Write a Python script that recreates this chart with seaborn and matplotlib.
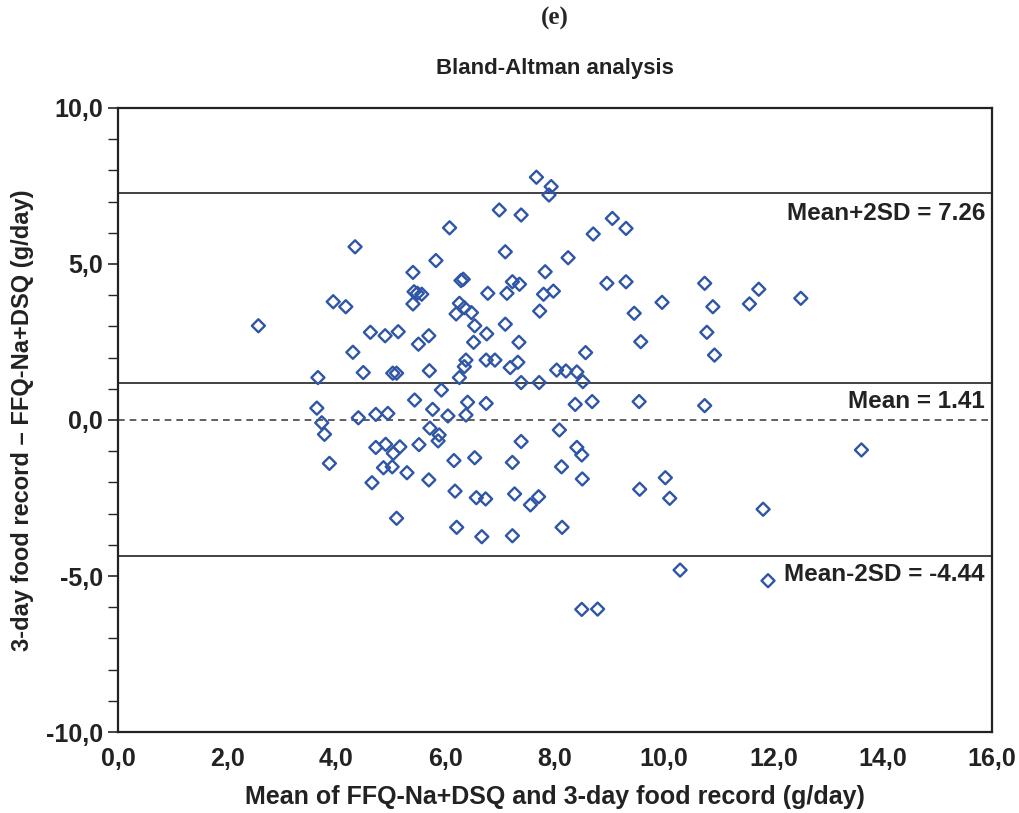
import matplotlib
matplotlib.use("Agg")
import matplotlib.pyplot as plt
from matplotlib.ticker import FuncFormatter, MultipleLocator
import numpy as np
import pandas as pd
import seaborn as sns

# Bland-Altman points
mean_vals = [
    4.34, 5.40, 5.42, 5.48, 5.56, 5.40, 3.94, 4.17, 2.57, 4.62,
    4.89, 5.13, 5.69, 4.30, 5.50, 4.49, 5.03, 5.10, 3.66, 3.64,
    5.43, 4.40, 4.72, 4.94, 3.73, 3.78, 4.72, 4.90, 5.04, 5.16,
    5.51, 5.71, 3.87, 4.86, 5.02, 5.29, 4.65, 5.69, 5.10, 7.66,
    7.93, 7.89, 6.98, 7.38, 6.07, 7.09, 5.82, 8.24, 6.28, 6.32,
    7.82, 7.22, 7.35, 6.77, 7.12, 7.79, 7.97, 6.25, 6.34, 6.19,
    6.47, 7.72, 6.53, 7.09, 6.75, 6.51, 7.34, 6.37, 6.34, 6.74,
    6.90, 7.18, 7.32, 8.03, 8.20, 8.40, 5.70, 6.25, 7.38, 7.71,
    5.92, 6.40, 6.74, 8.37, 5.76, 6.04, 6.37, 5.88, 5.86, 8.08,
    7.38, 8.40, 8.68, 9.54, 8.49, 6.15, 6.53, 7.22, 8.12, 8.50,
    6.17, 6.56, 6.73, 7.26, 7.55, 7.70, 9.55, 10.02, 10.10, 6.20,
    6.66, 7.22, 8.13, 10.29, 8.49, 8.78, 9.05, 9.30, 8.70, 8.95,
    9.30, 10.74, 11.73, 9.96, 9.45, 10.89, 11.56, 10.78, 9.57, 10.92,
    8.56, 8.51, 10.74, 12.50, 13.61, 11.81, 11.90,
]
diff_vals = [
    5.55, 4.73, 4.11, 4.06, 4.03, 3.72, 3.79, 3.63, 3.02, 2.81,
    2.70, 2.83, 2.70, 2.17, 2.43, 1.52, 1.50, 1.50, 1.36, 0.38,
    0.64, 0.07, 0.18, 0.21, -0.09, -0.46, -0.88, -0.78, -1.07, -0.86,
    -0.79, -0.26, -1.39, -1.53, -1.50, -1.69, -2.01, -1.92, -3.15, 7.78,
    7.48, 7.21, 6.73, 6.57, 6.16, 5.39, 5.11, 5.20, 4.47, 4.51,
    4.75, 4.43, 4.35, 4.06, 4.06, 4.03, 4.13, 3.74, 3.60, 3.40,
    3.44, 3.49, 3.02, 3.07, 2.76, 2.49, 2.49, 1.92, 1.71, 1.92,
    1.92, 1.68, 1.85, 1.60, 1.57, 1.54, 1.58, 1.36, 1.20, 1.20,
    0.96, 0.57, 0.53, 0.50, 0.34, 0.13, 0.16, -0.48, -0.67, -0.32,
    -0.69, -0.88, 0.59, 0.59, -1.12, -1.30, -1.21, -1.36, -1.50, -1.89,
    -2.28, -2.49, -2.53, -2.37, -2.72, -2.46, -2.22, -1.85, -2.51, -3.44,
    -3.74, -3.71, -3.44, -4.81, -6.07, -6.06, 6.46, 6.14, 5.96, 4.38,
    4.43, 4.38, 4.19, 3.77, 3.42, 3.63, 3.72, 2.81, 2.51, 2.08,
    2.16, 1.23, 0.46, 3.90, -0.96, -2.86, -5.15,
]

# horizontal reference lines as drawn, and their labels
limit_levels = [7.26, 1.17, -4.35]
limit_labels = ["Mean+2SD = 7.26", "Mean = 1.41", "Mean-2SD = -4.44"]

df = pd.DataFrame({"mean": mean_vals, "diff": diff_vals})

sns.set_theme(style="white")
plt.rcParams["font.family"] = ["Liberation Sans", "DejaVu Sans"]

BLUE = "#2f56a6"
INK = "#222222"

fig = plt.figure(figsize=(10.19, 8.13), dpi=100)
ax = fig.add_axes([0.1158, 0.0996, 0.8577, 0.7676])

for lv in limit_levels:
    ax.axhline(lv, color="#333333", lw=1.3, zorder=1)
ax.axhline(0, color="#444444", lw=1.2, ls=(0, (4, 3)), zorder=1)

sns.scatterplot(data=df, x="mean", y="diff", ax=ax, marker="D", s=44,
                color=BLUE, facecolor="none", edgecolor=BLUE, linewidth=1.7,
                zorder=3, legend=False)

ax.set_xlim(0, 16)
ax.set_ylim(-10, 10)
ax.xaxis.set_major_locator(MultipleLocator(2))
ax.yaxis.set_major_locator(MultipleLocator(5))
ax.yaxis.set_minor_locator(MultipleLocator(1))
comma = FuncFormatter(lambda v, _: f"{v:.1f}".replace(".", ","))
ax.xaxis.set_major_formatter(comma)
ax.yaxis.set_major_formatter(comma)
ax.tick_params(axis="x", length=0, pad=11, labelsize=18)
ax.tick_params(axis="y", which="major", length=7, width=1.2, left=True,
               direction="out", pad=4, labelsize=18)
ax.tick_params(axis="y", which="minor", length=7, width=1.0, left=True,
               direction="out")
for lab in ax.get_xticklabels() + ax.get_yticklabels():
    lab.set_fontweight("bold")
    lab.set_color(INK)

for sp in ax.spines.values():
    sp.set_color(INK)
    sp.set_linewidth(1.6)

ax.set_xlabel("Mean of FFQ-Na+DSQ and 3-day food record (g/day)",
              fontsize=18, fontweight="bold", color=INK, labelpad=10)
ax.set_ylabel("3-day food record \u2013 FFQ-Na+DSQ (g/day)",
              fontsize=17, fontweight="bold", color=INK, labelpad=8)

label_y = [7.26 - 0.65, 1.17 - 0.58, -4.35 - 0.6]
for txt, yy in zip(limit_labels, label_y):
    ax.text(15.87, yy, txt, ha="right", va="center", fontsize=17.5,
            fontweight="bold", color=INK)

fig.text(0.5447, 0.977, "(e)", ha="center", va="center", fontsize=18,
         fontweight="bold", family=["Liberation Serif", "DejaVu Serif"])
fig.text(0.5447, 0.916, "Bland-Altman analysis", ha="center", va="center",
         fontsize=16, fontweight="bold", color=INK)

fig.savefig("out.png", dpi=100)
